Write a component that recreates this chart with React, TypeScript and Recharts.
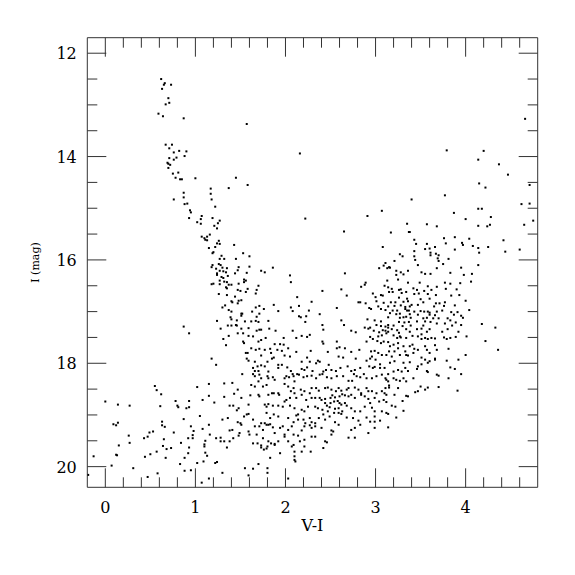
import { ScatterChart, Scatter, XAxis, YAxis } from "recharts";

// V-I colour vs I magnitude
const brightStars = [
  [0.62, 12.5], [0.66, 12.58], [0.65, 12.61], [0.73, 12.61], [0.63, 12.69], [0.7, 12.87], [0.71, 12.96], [0.67, 12.99],
  [0.59, 13.17], [0.64, 13.22], [0.87, 13.26], [0.67, 13.77], [0.74, 13.77], [0.71, 13.84], [0.82, 13.89], [0.9, 13.9],
  [0.76, 13.92], [0.88, 13.99], [0.79, 14.02], [0.71, 14.03], [0.76, 14.06], [0.69, 14.12], [0.7, 14.14], [0.72, 14.16],
  [0.7, 14.22], [0.75, 14.33], [0.81, 14.31], [0.78, 14.41], [0.83, 14.44], [0.85, 14.44], [1.0, 14.42], [1.45, 14.41],
  [1.17, 14.62], [1.37, 14.61], [1.57, 13.37], [2.16, 13.94], [1.58, 14.55],
  [4.66, 13.27], [3.79, 13.88], [4.2, 13.89], [4.14, 14.06], [4.37, 14.15], [4.47, 14.35], [4.15, 14.52], [4.22, 14.6], [4.71, 14.55],
];

const blueBranch = [
  [0.87, 14.7], [1.17, 14.72], [0.87, 14.79], [0.76, 14.83], [1.18, 14.83], [0.88, 14.92], [0.91, 14.91], [1.22, 14.97],
  [0.94, 15.04], [0.95, 15.08], [1.07, 15.15], [0.93, 15.19], [1.06, 15.21], [1.19, 15.19], [1.02, 15.27], [1.27, 15.24],
  [1.06, 15.3], [1.25, 15.29], [1.21, 15.34], [1.24, 15.39], [1.16, 15.51], [1.07, 15.55], [1.1, 15.58], [1.13, 15.55],
  [1.11, 15.61], [1.13, 15.62], [1.26, 15.63], [1.24, 15.68], [1.27, 15.69], [1.43, 15.71], [1.22, 15.75], [1.15, 15.77],
  [1.2, 15.85], [1.19, 15.87], [1.29, 15.92], [1.27, 15.98], [1.32, 15.98], [1.45, 15.98], [1.26, 16.08], [1.19, 16.1],
  [1.28, 16.1], [1.18, 16.14], [1.23, 16.17], [1.3, 16.15], [1.35, 16.16], [1.48, 16.14], [1.27, 16.21], [1.31, 16.22],
  [1.24, 16.26], [1.24, 16.29], [1.34, 16.24], [1.44, 16.26], [1.29, 16.33], [1.31, 16.35], [1.36, 16.31], [1.27, 16.4],
  [1.32, 16.42], [1.35, 16.43], [1.18, 16.47], [1.2, 16.46], [1.27, 16.47], [1.37, 16.48], [1.4, 16.48], [1.48, 16.46],
  [1.34, 16.53], [1.35, 16.55], [1.47, 16.58], [1.26, 16.66], [1.35, 16.68], [1.44, 16.71], [1.48, 16.79], [1.4, 16.8],
  [1.41, 16.82], [1.47, 16.84], [1.33, 16.88], [1.3, 16.92], [1.37, 16.97], [1.4, 17.0], [1.39, 17.11], [1.4, 17.15],
  [1.24, 17.18], [1.46, 17.17], [1.36, 17.27], [1.4, 17.27], [1.45, 17.26], [1.46, 17.27], [1.28, 17.33], [0.87, 17.29],
  [0.93, 17.42], [1.37, 17.47], [1.47, 17.42], [1.31, 17.53],
];

const midBright = [
  [2.22, 15.2], [2.91, 15.15], [3.07, 15.05], [2.65, 15.45], [3.08, 15.75], [1.53, 15.87], [1.6, 15.93], [3.11, 16.06],
  [3.09, 16.11], [3.04, 16.16], [3.15, 16.14], [1.6, 16.13], [1.86, 16.15], [1.73, 16.21], [1.77, 16.24], [1.57, 16.25],
  [1.47, 16.2], [2.66, 16.26], [2.05, 16.3], [2.06, 16.43], [1.54, 16.38], [1.56, 16.4], [1.54, 16.43], [1.7, 16.5],
  [2.84, 16.52], [2.89, 16.44], [2.88, 16.48], [3.1, 16.5], [3.13, 16.4], [1.58, 16.56], [1.5, 16.6], [1.68, 16.58],
  [1.56, 16.62], [1.67, 16.65], [2.41, 16.6], [2.62, 16.57], [2.68, 16.69], [2.13, 16.72], [2.97, 16.65], [3.0, 16.72],
  [3.06, 16.68], [3.08, 16.69], [1.51, 16.78], [2.29, 16.81], [1.87, 16.87], [2.81, 16.82], [2.83, 16.82], [2.89, 16.84],
  [3.01, 16.8], [3.09, 16.83], [2.15, 16.89], [2.06, 16.92], [2.57, 16.93], [2.93, 16.93], [2.95, 16.95], [3.03, 16.9],
  [3.06, 16.95], [3.11, 16.97], [1.67, 16.92], [1.71, 16.89], [2.08, 16.99], [2.26, 16.98], [1.92, 16.99], [1.76, 16.95],
  [1.63, 17.0], [1.71, 17.04], [1.51, 17.04], [1.52, 17.04], [2.38, 17.05], [2.15, 17.09], [2.17, 17.11], [1.51, 17.08],
  [1.68, 17.1], [2.23, 17.09], [2.22, 17.2], [1.55, 17.19], [1.62, 17.19], [1.67, 17.18], [1.81, 17.18], [1.7, 17.2],
  [2.62, 17.17], [2.65, 17.26], [2.41, 17.26], [2.42, 17.35], [2.91, 17.15], [2.99, 17.17], [3.01, 17.26], [3.06, 17.19],
  [3.06, 17.28], [3.11, 17.29], [3.14, 17.31], [2.88, 17.31], [2.92, 17.33], [2.94, 17.31], [2.98, 17.37], [2.73, 17.37],
  [2.78, 17.4], [1.51, 17.33], [1.59, 17.32], [1.68, 17.37], [1.71, 17.35], [1.73, 17.35], [1.53, 17.42], [1.82, 17.33],
  [1.89, 17.37], [2.08, 17.37], [2.12, 17.51], [2.18, 17.47], [2.27, 17.45], [2.24, 17.49], [1.98, 17.51], [1.78, 17.51],
  [1.59, 17.47], [1.64, 17.48], [2.94, 17.49], [2.97, 17.53], [3.03, 17.48], [3.07, 17.46], [3.12, 17.42], [3.04, 17.4],
  [3.08, 17.36], [3.11, 17.37],
];

const redBright = [
  [3.4, 14.83], [3.77, 14.75], [4.62, 14.92], [4.71, 14.91], [4.14, 15.01], [4.18, 15.01], [3.87, 15.09], [4.28, 15.17],
  [4.0, 15.21], [4.75, 15.24], [3.57, 15.31], [3.68, 15.35], [4.14, 15.34], [4.24, 15.35], [4.27, 15.32], [4.65, 15.32],
  [3.35, 15.3], [3.17, 15.47], [3.37, 15.46], [3.38, 15.46], [3.76, 15.58], [3.88, 15.56], [4.04, 15.59], [4.42, 15.62],
  [3.43, 15.61], [3.45, 15.69], [3.57, 15.69], [3.78, 15.68], [3.96, 15.67], [3.97, 15.71], [4.08, 15.73], [4.25, 15.75],
  [3.55, 15.79], [3.6, 15.78], [3.66, 15.75], [4.14, 15.77], [3.88, 15.8], [4.15, 15.86], [4.44, 15.84], [4.6, 15.8],
  [3.43, 15.83], [3.27, 15.89], [3.3, 15.93], [3.61, 15.86], [3.61, 15.91], [3.67, 15.88], [3.7, 15.91], [3.43, 15.93],
  [3.44, 16.0], [3.69, 15.97], [3.7, 16.02], [3.81, 15.98], [3.21, 16.02], [3.47, 16.1], [3.75, 16.08], [4.14, 16.1],
  [3.13, 16.16], [3.16, 16.15], [3.68, 16.16], [3.95, 16.15], [3.23, 16.21], [3.28, 16.24], [3.36, 16.21], [3.51, 16.24],
  [3.61, 16.27], [3.55, 16.27], [3.83, 16.25], [4.07, 16.27], [3.98, 16.29], [3.23, 16.29], [3.31, 16.28], [3.25, 16.38],
  [3.36, 16.44], [3.49, 16.44], [3.77, 16.44], [3.83, 16.46], [3.94, 16.45], [4.06, 16.42], [3.58, 16.51], [3.68, 16.52],
  [3.14, 16.53], [3.18, 16.56], [3.26, 16.58], [3.28, 16.57], [3.42, 16.55], [3.46, 16.58], [3.54, 16.6], [3.62, 16.58],
  [3.78, 16.56], [3.9, 16.57], [3.15, 16.62], [3.19, 16.62], [3.29, 16.64], [3.34, 16.62], [3.43, 16.66], [3.48, 16.65],
  [3.58, 16.66], [3.67, 16.68], [3.84, 16.69], [3.93, 16.68], [3.26, 16.73], [3.35, 16.75], [3.5, 16.76], [3.6, 16.75],
  [3.36, 16.8], [3.17, 16.82], [3.22, 16.82], [3.31, 16.81], [3.4, 16.87], [3.47, 16.87], [3.53, 16.82], [3.67, 16.84],
  [3.71, 16.84], [3.77, 16.82], [4.0, 16.79], [3.14, 16.9], [3.21, 16.89], [3.28, 16.88], [3.33, 16.91], [3.38, 16.9],
  [3.65, 16.9], [3.76, 16.89], [3.88, 16.88], [4.04, 16.97], [3.19, 16.98], [3.24, 16.98], [3.33, 16.95], [3.35, 16.98],
  [3.37, 16.98], [3.43, 17.0], [3.5, 16.99], [3.54, 17.0], [3.58, 17.0], [3.6, 17.02], [3.68, 17.0], [3.74, 16.98],
  [3.84, 17.01], [3.91, 17.01], [3.16, 17.03], [3.23, 17.05], [3.27, 17.04], [3.38, 17.05], [3.47, 17.06], [3.6, 17.06],
  [3.66, 17.07], [3.87, 17.06], [3.95, 17.08], [3.97, 17.12], [3.14, 17.11], [3.27, 17.12], [3.31, 17.11], [3.34, 17.1],
  [3.39, 17.12], [3.53, 17.13], [3.57, 17.12], [3.64, 17.13], [3.7, 17.13], [3.8, 17.13], [3.83, 17.17], [4.18, 17.24],
  [4.33, 17.31], [3.26, 17.2], [3.32, 17.21], [3.37, 17.2], [3.46, 17.19], [3.55, 17.19], [3.61, 17.2], [3.68, 17.23],
  [3.77, 17.23], [3.89, 17.21], [3.14, 17.26], [3.2, 17.27], [3.3, 17.28], [3.39, 17.27], [3.53, 17.27], [3.85, 17.27],
  [3.95, 17.26], [3.18, 17.34], [3.24, 17.36], [3.34, 17.34], [3.46, 17.34], [3.51, 17.33], [3.6, 17.34], [3.8, 17.34],
  [3.92, 17.39], [3.14, 17.39], [3.26, 17.41], [3.38, 17.39], [3.57, 17.39], [3.74, 17.39], [3.2, 17.46], [3.24, 17.51],
  [3.28, 17.5], [3.34, 17.51], [3.41, 17.47], [3.51, 17.44], [3.55, 17.51], [3.66, 17.52], [3.76, 17.5], [3.83, 17.51],
  [3.89, 17.49],
];

const faintBlue = [
  [1.34, 17.65], [1.18, 17.91], [1.23, 18.03], [0.55, 18.44], [0.57, 18.52], [0.62, 18.6], [1.02, 18.46], [1.15, 18.4],
  [1.32, 18.39], [1.41, 18.38], [1.47, 18.51], [1.43, 18.59], [0.0, 18.74], [0.14, 18.8], [0.27, 18.82], [0.61, 18.83],
  [0.78, 18.73], [0.8, 18.82], [0.81, 18.85], [0.9, 18.87], [0.93, 18.73], [0.93, 18.85], [1.08, 18.71], [1.15, 18.63],
  [1.21, 18.76], [1.32, 18.65], [1.38, 18.82], [1.42, 18.82], [1.48, 18.87], [1.46, 18.91], [1.05, 19.02], [1.3, 19.09],
  [1.36, 19.06], [1.47, 19.14], [0.09, 19.18], [0.12, 19.2], [0.14, 19.15], [0.63, 19.13], [0.63, 19.2], [0.66, 19.23],
  [0.87, 19.08], [0.95, 19.22], [0.98, 19.31], [1.15, 19.19], [1.08, 19.27], [0.49, 19.34], [0.53, 19.32], [0.26, 19.4],
  [0.47, 19.42], [0.43, 19.45], [0.65, 19.47], [0.76, 19.34], [0.97, 19.39], [0.97, 19.45], [0.92, 19.45], [1.11, 19.5],
  [1.16, 19.38], [1.23, 19.45], [1.28, 19.44], [1.28, 19.51], [1.32, 19.51], [1.38, 19.51], [1.38, 19.3], [1.41, 19.29],
  [1.42, 19.45], [1.35, 19.63], [1.48, 19.4], [0.15, 19.59], [0.27, 19.54], [0.64, 19.6], [0.68, 19.66], [0.73, 19.64],
  [0.84, 19.54], [1.1, 19.57], [1.1, 19.61], [0.93, 19.63], [0.57, 19.71], [0.5, 19.76], [0.44, 19.81], [0.67, 19.83],
  [0.88, 19.83], [0.92, 19.74], [1.11, 19.73], [1.13, 19.79], [0.12, 19.77], [0.13, 19.78], [-0.13, 19.8], [1.22, 19.93],
  [1.24, 19.91], [1.09, 19.9], [1.02, 19.93], [0.83, 19.95], [0.07, 19.98], [0.31, 20.03], [0.88, 20.08], [0.95, 20.07],
  [1.3, 20.12], [0.58, 20.13], [0.47, 20.2], [-0.19, 20.16], [1.07, 20.31], [1.15, 20.23],
];

const faintMid = [
  [1.53, 17.58], [1.54, 17.61], [1.7, 17.58], [1.73, 17.55], [1.88, 17.63], [1.94, 17.63], [1.98, 17.64], [2.41, 17.58],
  [2.42, 17.62], [2.57, 17.58], [2.6, 17.69], [2.9, 17.58], [3.02, 17.57], [3.06, 17.61], [3.09, 17.58], [3.14, 17.59],
  [1.56, 17.8], [1.58, 17.8], [1.62, 17.71], [1.67, 17.74], [1.71, 17.72], [1.77, 17.74], [1.83, 17.72], [1.84, 17.8],
  [1.91, 17.74], [1.96, 17.76], [2.03, 17.71], [2.12, 17.78], [2.28, 17.76], [2.47, 17.78], [2.57, 17.71], [2.66, 17.71],
  [2.73, 17.78], [2.82, 17.74], [2.95, 17.77], [2.99, 17.76], [3.03, 17.8], [3.07, 17.84], [3.15, 17.77],
  [1.57, 17.91], [1.59, 17.95], [1.66, 17.97], [1.73, 17.85], [1.8, 17.97], [1.85, 17.91], [1.87, 17.89], [1.92, 18.03],
  [1.99, 17.85], [2.05, 17.87], [2.18, 17.97], [2.24, 17.89], [2.27, 17.97], [2.36, 17.95], [2.38, 17.97], [2.34, 18.0],
  [2.48, 18.03], [2.59, 17.87], [2.64, 17.89], [2.78, 17.91], [2.9, 17.95], [2.94, 17.91], [2.96, 17.87], [3.0, 17.93],
  [3.05, 18.02], [3.12, 17.84],
  [1.64, 18.09], [1.66, 18.15], [1.7, 18.15], [1.73, 18.04], [1.69, 18.06], [1.77, 18.06], [1.81, 18.16], [1.92, 18.09],
  [1.96, 18.03], [2.02, 18.08], [2.06, 18.15], [2.08, 18.21], [2.13, 18.21], [2.18, 18.11], [2.21, 18.13], [2.24, 18.08],
  [2.3, 18.15], [2.42, 18.16], [2.45, 18.13], [2.51, 18.13], [2.56, 18.15], [2.61, 18.09], [2.69, 18.06], [2.73, 18.15],
  [2.77, 18.13], [2.83, 18.09], [2.93, 18.06], [2.97, 18.09], [2.99, 18.07], [3.05, 18.09], [3.14, 18.21], [1.52, 18.21],
  [1.64, 18.21], [1.66, 18.25], [1.71, 18.22], [1.8, 18.25], [1.86, 18.27],
  [1.7, 18.35], [1.73, 18.29], [1.81, 18.29], [1.88, 18.32], [1.99, 18.29], [2.01, 18.25], [2.04, 18.27], [2.09, 18.25],
  [2.1, 18.35], [2.15, 18.22], [2.2, 18.27], [2.24, 18.25], [2.29, 18.24], [2.34, 18.29], [2.38, 18.22], [2.41, 18.21],
  [2.46, 18.27], [2.51, 18.29], [2.57, 18.25], [2.64, 18.25], [2.7, 18.34], [2.74, 18.34], [2.76, 18.21], [2.79, 18.25],
  [2.83, 18.27], [2.87, 18.21], [2.9, 18.29], [2.96, 18.29], [3.01, 18.25], [3.07, 18.22], [3.11, 18.29], [3.14, 18.35],
  [3.15, 18.43],
  [1.62, 18.42], [1.66, 18.45], [1.75, 18.45], [1.79, 18.42], [1.87, 18.58], [1.92, 18.58], [1.99, 18.4], [2.03, 18.45],
  [2.06, 18.54], [2.09, 18.48], [2.1, 18.58], [2.17, 18.51], [2.21, 18.54], [2.27, 18.58], [2.29, 18.48], [2.34, 18.48],
  [2.37, 18.53], [2.44, 18.48], [2.47, 18.47], [2.51, 18.51], [2.56, 18.54], [2.59, 18.48], [2.62, 18.53], [2.68, 18.51],
  [2.7, 18.48], [2.77, 18.47], [2.81, 18.51], [2.84, 18.58], [2.9, 18.48], [2.92, 18.54], [2.96, 18.54], [3.01, 18.58],
  [3.07, 18.54], [3.11, 18.48], [3.15, 18.47],
  [1.51, 18.67], [1.61, 18.62], [1.7, 18.61], [1.71, 18.64], [1.81, 18.61], [1.85, 18.58], [1.93, 18.61], [1.99, 18.74],
  [2.01, 18.71], [2.05, 18.67], [2.12, 18.67], [2.18, 18.61], [2.23, 18.71], [2.29, 18.67], [2.33, 18.67], [2.38, 18.67],
  [2.4, 18.71], [2.44, 18.69], [2.5, 18.67], [2.52, 18.62], [2.55, 18.66], [2.6, 18.64], [2.63, 18.6], [2.66, 18.62],
  [2.7, 18.64], [2.73, 18.61], [2.77, 18.67], [2.84, 18.61], [2.88, 18.64], [2.92, 18.69], [2.94, 18.77], [2.99, 18.67],
  [3.04, 18.74], [3.09, 18.71], [3.12, 18.75], [2.54, 18.74], [2.6, 18.77], [2.62, 18.8], [2.66, 18.77], [2.5, 18.77],
  [2.58, 18.73], [2.44, 18.77],
  [1.59, 18.8], [1.77, 18.8], [1.79, 18.84], [1.81, 18.79], [1.86, 18.82], [1.92, 18.82], [1.97, 18.84], [2.05, 18.82],
  [2.1, 18.87], [2.14, 18.99], [2.18, 18.9], [2.21, 18.93], [2.25, 18.84], [2.33, 18.84], [2.36, 18.87], [2.41, 18.9],
  [2.46, 18.82], [2.49, 18.85], [2.55, 18.88], [2.59, 18.87], [2.63, 18.93], [2.68, 18.82], [2.73, 18.87], [2.77, 18.93],
  [2.83, 18.93], [2.88, 18.84], [2.96, 18.86], [2.99, 18.93], [3.07, 18.93], [3.12, 18.96], [3.14, 18.98], [1.79, 18.96],
  [2.47, 18.93], [2.54, 18.96], [2.59, 18.96],
  [1.54, 19.03], [1.57, 18.99], [1.59, 18.98], [1.64, 19.09], [1.73, 19.16], [1.77, 19.16], [1.81, 19.19], [1.83, 19.06],
  [1.87, 18.99], [1.92, 19.03], [2.03, 19.06], [2.09, 19.14], [2.12, 19.01], [2.14, 19.09], [2.2, 19.09], [2.22, 19.16],
  [2.27, 19.06], [2.29, 19.14], [2.33, 19.16], [2.37, 19.06], [2.42, 18.99], [2.44, 19.09], [2.49, 19.03], [2.55, 19.14],
  [2.62, 18.98], [2.68, 19.05], [2.75, 19.06], [2.81, 19.11], [2.9, 19.05], [2.94, 19.13], [2.99, 19.03], [2.99, 19.13],
  [3.05, 19.11], [1.5, 19.16],
  [1.49, 19.35], [1.51, 19.19], [1.59, 19.32], [1.66, 19.22], [1.68, 19.38], [1.71, 19.22], [1.75, 19.29], [1.79, 19.19],
  [1.83, 19.18], [1.86, 19.24], [1.88, 19.35], [1.94, 19.25], [1.97, 19.22], [1.99, 19.38], [2.03, 19.29], [2.07, 19.22],
  [2.09, 19.38], [2.18, 19.3], [2.21, 19.22], [2.27, 19.2], [2.29, 19.25], [2.33, 19.22], [2.4, 19.25], [2.51, 19.3],
  [2.53, 19.32], [2.59, 19.19], [2.73, 19.29], [2.77, 19.25], [2.83, 19.19], [2.92, 19.35], [2.99, 19.25], [3.14, 19.24],
  [1.6, 19.38], [1.64, 19.55], [1.69, 19.55], [1.73, 19.59], [1.75, 19.45], [1.81, 19.51], [1.84, 19.55], [1.88, 19.58],
  [1.92, 19.51], [1.99, 19.42], [2.03, 19.51], [2.09, 19.58], [2.14, 19.4], [2.16, 19.51], [2.21, 19.48], [2.29, 19.42],
  [2.33, 19.42], [2.44, 19.51], [2.46, 19.53], [2.51, 19.38], [2.7, 19.44], [2.77, 19.44],
  [1.73, 19.63], [1.76, 19.67], [1.79, 19.65], [1.8, 19.61], [1.88, 19.56], [1.94, 19.74], [2.07, 19.61], [2.1, 19.71],
  [2.18, 19.71], [2.21, 19.61], [2.28, 19.71], [2.42, 19.64], [1.83, 19.83], [2.1, 19.8], [2.1, 19.87], [2.11, 19.9],
  [1.7, 19.95], [1.55, 20.03], [1.64, 20.04], [1.8, 20.03], [1.8, 20.12], [1.59, 20.17], [2.03, 20.23],
];

const faintRed = [
  [3.27, 17.48], [3.47, 17.48], [3.51, 17.53], [3.58, 17.53], [3.62, 17.51], [3.79, 17.53], [4.01, 17.48], [4.22, 17.57],
  [4.36, 17.74], [3.16, 17.67], [3.2, 17.64], [3.25, 17.61], [3.25, 17.71], [3.31, 17.67], [3.33, 17.77], [3.38, 17.67],
  [3.41, 17.64], [3.43, 17.72], [3.47, 17.74], [3.55, 17.67], [3.57, 17.74], [3.66, 17.65], [3.68, 17.74], [3.81, 17.72],
  [4.0, 17.84], [3.18, 17.87], [3.21, 17.77], [3.27, 17.84], [3.34, 17.84], [3.36, 17.85], [3.42, 17.8], [3.51, 17.89],
  [3.55, 17.93], [3.6, 17.8], [3.66, 17.91], [3.79, 17.95], [3.92, 17.93], [3.1, 18.09], [3.16, 17.99], [3.21, 17.96],
  [3.31, 17.99], [3.38, 17.98], [3.47, 18.06], [3.51, 18.02], [3.58, 17.99], [3.6, 17.96], [3.66, 17.93], [3.83, 18.08],
  [3.88, 18.11], [3.95, 18.21], [3.2, 18.16], [3.25, 18.13], [3.29, 18.16], [3.33, 18.09], [3.36, 18.15], [3.46, 18.11],
  [3.57, 18.15], [3.58, 18.17], [3.68, 18.22], [3.7, 18.24], [3.81, 18.29], [3.12, 18.32], [3.2, 18.29], [3.23, 18.32],
  [3.27, 18.34], [3.31, 18.29], [3.34, 18.35], [3.42, 18.29], [3.5, 18.45], [3.58, 18.47], [3.7, 18.46], [3.91, 18.53],
  [3.25, 18.48], [3.34, 18.63], [3.36, 18.64], [3.44, 18.56], [3.47, 18.54], [3.55, 18.51], [3.1, 18.58], [3.12, 18.61],
  [3.21, 18.61], [3.3, 18.73], [3.18, 18.82], [3.22, 18.84], [3.31, 18.92], [3.23, 19.05],
];

const xTicks = [0, 0.2, 0.4, 0.6, 0.8, 1, 1.2, 1.4, 1.6, 1.8, 2, 2.2, 2.4, 2.6, 2.8, 3, 3.2, 3.4, 3.6, 3.8, 4, 4.2, 4.4, 4.6];
const yTicks = [12, 12.5, 13, 13.5, 14, 14.5, 15, 15.5, 16, 16.5, 17, 17.5, 18, 18.5, 19, 19.5, 20];

const stars = [...brightStars, ...blueBranch, ...midBright, ...redBright, ...faintBlue, ...faintMid, ...faintRed].map(
  ([vi, mag]) => ({ vi, mag })
);

const FONT = "DejaVu Serif";
const INK = "#333";
const MAJOR = 19;
const MINOR = 10;

const isMajor = (v: number) => Math.abs(v - Math.round(v)) < 1e-6;

function BottomTick({ x, y, payload }: any) {
  const v = payload.value;
  const big = isMajor(v);
  return (
    <g>
      <line x1={x} y1={y} x2={x} y2={y - (big ? MAJOR : MINOR)} stroke={INK} />
      {big && (
        <text x={x} y={y + 26} textAnchor="middle" fontSize={16} fontFamily={FONT} fill="#000">
          {v}
        </text>
      )}
    </g>
  );
}

function TopTick({ x, y, payload }: any) {
  const big = isMajor(payload.value);
  return <line x1={x} y1={y} x2={x} y2={y + (big ? MAJOR : MINOR)} stroke={INK} />;
}

function LeftTick({ x, y, payload }: any) {
  const v = payload.value;
  const big = isMajor(v / 2);
  return (
    <g>
      <line x1={x} y1={y} x2={x + (big ? MAJOR : MINOR)} y2={y} stroke={INK} />
      {big && (
        <text x={x - 10.5} y={y + 6} textAnchor="end" fontSize={16} fontFamily={FONT} fill="#000">
          {v}
        </text>
      )}
    </g>
  );
}

function RightTick({ x, y, payload }: any) {
  const big = isMajor(payload.value / 2);
  return <line x1={x} y1={y} x2={x - (big ? MAJOR : MINOR)} y2={y} stroke={INK} />;
}

const Dot = (p: any) => <rect x={p.cx - 1} y={p.cy - 1} width={2} height={2} fill="#000" />;
const Nothing = () => <g />;

export default function App() {
  return (
    <ScatterChart width={559} height={559} margin={{ top: 28.7, right: 28.3, bottom: 29.7, left: 0 }}>
      <XAxis
        type="number"
        dataKey="vi"
        domain={[-0.2, 4.8]}
        ticks={xTicks}
        interval={0}
        allowDataOverflow
        height={50}
        tickSize={0}
        tickMargin={0}
        tickLine={false}
        axisLine={{ stroke: INK }}
        tick={<BottomTick />}
        label={{
          content: ({ viewBox }: any) => (
            <text x={viewBox.x + viewBox.width / 2} y={viewBox.y + 44} textAnchor="middle" fontSize={16} fontFamily={FONT}>
              V-I
            </text>
          ),
        }}
      />
      <XAxis
        xAxisId="top"
        orientation="top"
        type="number"
        dataKey="vi"
        domain={[-0.2, 4.8]}
        ticks={xTicks}
        interval={0}
        allowDataOverflow
        height={1}
        tickSize={0}
        tickMargin={0}
        tickLine={false}
        axisLine={{ stroke: INK }}
        tick={<TopTick />}
      />
      <YAxis
        type="number"
        dataKey="mag"
        domain={[11.7, 20.4]}
        reversed
        ticks={yTicks}
        interval={0}
        allowDataOverflow
        width={79.3}
        tickSize={0}
        tickMargin={0}
        tickLine={false}
        axisLine={{ stroke: INK }}
        tick={<LeftTick />}
        label={{
          content: ({ viewBox }: any) => {
            const cx = 28;
            const cy = viewBox.y + viewBox.height / 2;
            return (
              <text x={cx} y={cy} transform={`rotate(-90 ${cx} ${cy})`} textAnchor="middle" dominantBaseline="middle" fontSize={11} fontFamily={FONT}>
                I (mag)
              </text>
            );
          },
        }}
      />
      <YAxis
        yAxisId="right"
        orientation="right"
        type="number"
        dataKey="mag"
        domain={[11.7, 20.4]}
        reversed
        ticks={yTicks}
        interval={0}
        allowDataOverflow
        width={1}
        tickSize={0}
        tickMargin={0}
        tickLine={false}
        axisLine={{ stroke: INK }}
        tick={<RightTick />}
      />
      <Scatter data={stars} fill="#000" shape={Dot} isAnimationActive={false} />
      <Scatter xAxisId="top" yAxisId="right" data={stars} shape={Nothing} isAnimationActive={false} legendType="none" />
    </ScatterChart>
  );
}
